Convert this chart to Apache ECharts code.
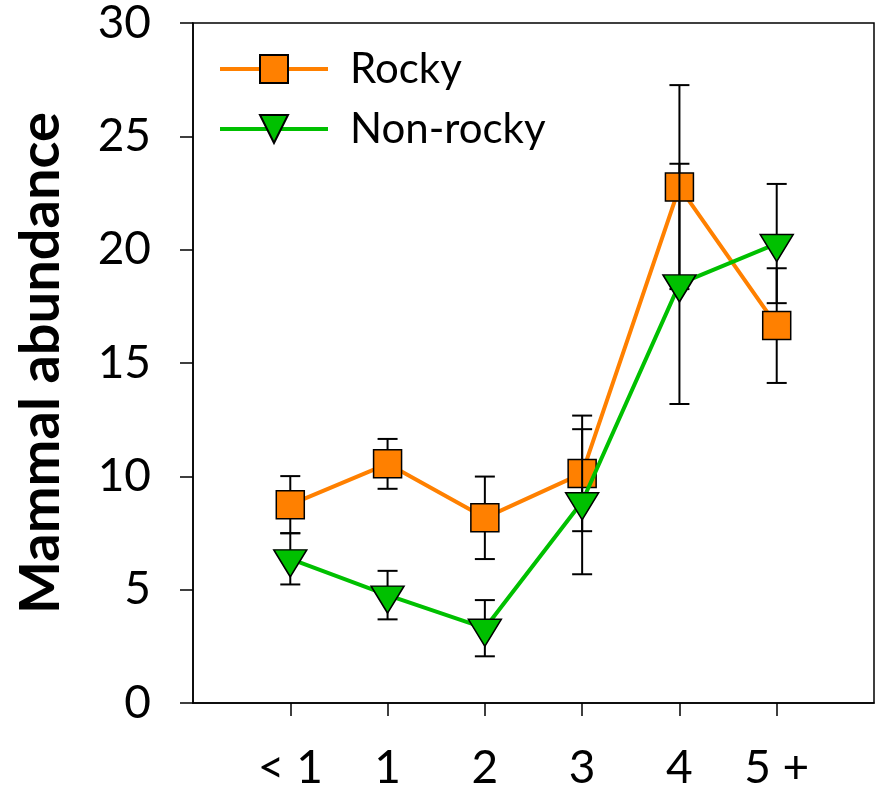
<!DOCTYPE html>
<html>
<head>
<meta charset="utf-8">
<script src="https://cdn.jsdelivr.net/npm/echarts@6/dist/echarts.min.js"></script>
<style>html,body{margin:0;padding:0;background:#fff;}#c{width:877px;height:795px;}</style>
</head>
<body>
<div id="c"></div>
<script>
const categories = ['< 1', '1', '2', '3', '4', '5 +'];
const rockyMean = [8.75, 10.55, 8.17, 10.13, 22.76, 16.65];
const rockyErr = [1.26, 1.10, 1.82, 2.55, 4.50, 2.53];
const nonRockyMean = [6.36, 4.76, 3.30, 8.88, 18.49, 20.27];
const nonRockyErr = [1.13, 1.07, 1.24, 3.20, 5.30, 2.63];
const yTicks = [0, 5, 10, 15, 20, 25, 30];

const FONT = 'Lato';
const pos = categories.map((c, i) => i + 1);
const pts = (m) => m.map((v, i) => [pos[i], v]);
const errData = (m, e) => m.map((v, i) => [pos[i], v - e[i], v + e[i]]);

function errRender(params, api) {
  const x = api.value(0);
  const lo = api.coord([x, api.value(1)]);
  const hi = api.coord([x, api.value(2)]);
  const cw = 10;
  const st = { stroke: '#000', lineWidth: 2 };
  return {
    type: 'group',
    children: [
      { type: 'line', shape: { x1: lo[0], y1: lo[1], x2: hi[0], y2: hi[1] }, style: st },
      { type: 'line', shape: { x1: lo[0] - cw, y1: lo[1], x2: lo[0] + cw, y2: lo[1] }, style: st },
      { type: 'line', shape: { x1: hi[0] - cw, y1: hi[1], x2: hi[0] + cw, y2: hi[1] }, style: st }
    ]
  };
}

const chart = echarts.init(document.getElementById('c'));
chart.setOption({
  animation: false,
  backgroundColor: '#fff',
  grid: { left: 193, right: 3, top: 23, bottom: 92, show: true, borderColor: '#000', borderWidth: 1.5, containLabel: false, outerBoundsMode: 'none' },
  legend: {
    data: ['Rocky', 'Non-rocky'],
    left: 213, top: 43, orient: 'vertical',
    itemWidth: 108, itemHeight: 35, itemGap: 18,
    lineStyle: { width: 4 },
    textStyle: { fontFamily: FONT, fontSize: 42, color: '#000', padding: [0, 0, 0, 17] }
  },
  xAxis: {
    type: 'value', min: 0, max: 7, interval: 1,
    axisLine: { show: true, onZero: false, lineStyle: { color: '#000', width: 1.5 } },
    axisTick: { show: true, inside: false, length: 13, lineStyle: { color: '#000', width: 1.5 }, customValues: pos },
    axisLabel: {
      customValues: pos,
      formatter: (v) => categories[Math.round(v) - 1] || '',
      fontFamily: FONT, fontSize: 46, color: '#000', margin: 42
    },
    splitLine: { show: false }
  },
  yAxis: {
    type: 'value', min: 0, max: 30, interval: 5,
    name: 'Mammal abundance', nameLocation: 'middle', nameGap: 124,
    nameTextStyle: { fontFamily: FONT, fontSize: 56, fontWeight: 'bold', color: '#000' },
    axisLine: { show: true, lineStyle: { color: '#000', width: 1.5 } },
    axisTick: { show: true, inside: false, length: 13, lineStyle: { color: '#000', width: 1.5 } },
    axisLabel: { fontFamily: FONT, fontSize: 46, color: '#000', margin: 42, formatter: (v) => yTicks.includes(v) ? String(v) : '' },
    splitLine: { show: false }
  },
  series: [
    {
      name: 'Rocky err', type: 'custom', renderItem: errRender, data: errData(rockyMean, rockyErr), z: 1, clip: false, silent: true
    },
    {
      name: 'Rocky', type: 'line', data: pts(rockyMean), z: 2,
      symbol: 'rect', symbolSize: 28,
      lineStyle: { color: '#FF8000', width: 4 },
      itemStyle: { color: '#FF8000', borderColor: '#000', borderWidth: 1.5 }
    },
    {
      name: 'Non-rocky err', type: 'custom', renderItem: errRender, data: errData(nonRockyMean, nonRockyErr), z: 3, clip: false, silent: true
    },
    {
      name: 'Non-rocky', type: 'line', data: pts(nonRockyMean), z: 4,
      symbol: 'triangle', symbolRotate: 180, symbolSize: [33, 27], symbolOffset: [0, 4.5],
      lineStyle: { color: '#00C000', width: 4 },
      itemStyle: { color: '#00C000', borderColor: '#000', borderWidth: 1.5 }
    }
  ]
});
</script>
</body>
</html>
